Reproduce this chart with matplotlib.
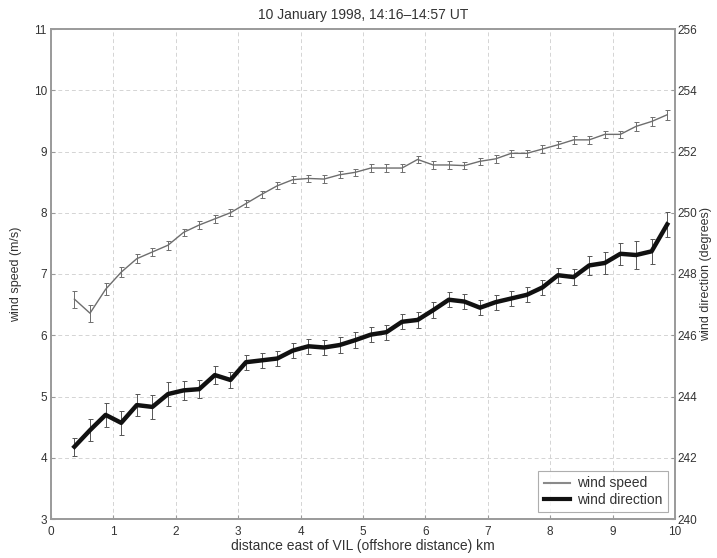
import numpy as np
import matplotlib
matplotlib.use("Agg")
import matplotlib.pyplot as plt
from matplotlib.lines import Line2D

# distance east of VIL (km), 0.25 km bins
distance = [0.375, 0.625, 0.875, 1.125, 1.375, 1.625, 1.875, 2.125, 2.375, 2.625,
            2.875, 3.125, 3.375, 3.625, 3.875, 4.125, 4.375, 4.625, 4.875, 5.125,
            5.375, 5.625, 5.875, 6.125, 6.375, 6.625, 6.875, 7.125, 7.375, 7.625,
            7.875, 8.125, 8.375, 8.625, 8.875, 9.125, 9.375, 9.625, 9.875]

# wind speed (m/s)
speed = [6.59, 6.36, 6.75, 7.03, 7.25, 7.36, 7.47, 7.68, 7.80, 7.90,
         8.00, 8.15, 8.30, 8.44, 8.54, 8.56, 8.55, 8.62, 8.66, 8.73,
         8.73, 8.73, 8.87, 8.78, 8.78, 8.77, 8.84, 8.88, 8.97, 8.97,
         9.04, 9.11, 9.19, 9.19, 9.28, 9.28, 9.41, 9.49, 9.60]
speed_err = [0.14, 0.14, 0.10, 0.08, 0.07, 0.07, 0.07, 0.06, 0.06, 0.06,
             0.06, 0.06, 0.06, 0.06, 0.06, 0.06, 0.06, 0.06, 0.06, 0.06,
             0.06, 0.06, 0.06, 0.06, 0.06, 0.06, 0.06, 0.06, 0.06, 0.06,
             0.06, 0.06, 0.06, 0.06, 0.06, 0.06, 0.07, 0.07, 0.08]

# wind direction (degrees)
direction = [242.36, 242.90, 243.40, 243.14, 243.72, 243.66, 244.08, 244.20, 244.24, 244.70,
             244.54, 245.12, 245.18, 245.24, 245.50, 245.64, 245.60, 245.68, 245.84, 246.02,
             246.10, 246.44, 246.50, 246.82, 247.16, 247.10, 246.90, 247.08, 247.20, 247.32,
             247.56, 247.96, 247.90, 248.28, 248.36, 248.66, 248.62, 248.74, 249.62]
direction_err = [0.30, 0.35, 0.40, 0.40, 0.35, 0.40, 0.40, 0.30, 0.30, 0.30,
                 0.25, 0.25, 0.25, 0.25, 0.25, 0.25, 0.25, 0.25, 0.25, 0.25,
                 0.25, 0.25, 0.25, 0.25, 0.25, 0.25, 0.25, 0.25, 0.25, 0.25,
                 0.25, 0.25, 0.25, 0.30, 0.35, 0.35, 0.45, 0.40, 0.40]

title = "10 January 1998, 14:16\u201314:57 UT"
text_color = "#333333"
spine_color = "#9a9a9a"
fs = 10
tick_fs = 8.5

plt.rcParams['font.family'] = ['Liberation Sans', 'DejaVu Sans']
plt.rcParams['font.size'] = fs

fig = plt.figure(figsize=(7.17, 5.58), dpi=100)
# axes box: x 51..675 px, y 29..519 px
ax = fig.add_axes([51 / 717, 1 - 519 / 558, 624 / 717, 490 / 558])
ax2 = ax.twinx()

ax.errorbar(distance, speed, yerr=speed_err, color="#6e6e6e", lw=1.0,
            elinewidth=0.7, capsize=1.8, capthick=0.7, zorder=3)
ax2.errorbar(distance, direction, yerr=direction_err, color="#111111", lw=3.2,
             elinewidth=0.7, ecolor="#555555", capsize=1.8, capthick=0.7, zorder=3)

ax.set_xlim(0, 10)
ax.set_ylim(3, 11)
ax2.set_ylim(240, 256)
ax.set_xticks(np.arange(0, 11, 1))
ax.set_yticks(np.arange(3, 12, 1))
ax2.set_yticks(np.arange(240, 257, 2))

ax.grid(True, ls=(0, (4, 3)), color="#d4d4d4", lw=0.7)
ax.set_axisbelow(True)

for a in (ax, ax2):
    for s in a.spines.values():
        s.set_color(spine_color)
        s.set_linewidth(1.2)
    a.tick_params(direction="in", length=3, color=spine_color,
                  labelcolor=text_color, labelsize=tick_fs, pad=3)
ax.tick_params(axis="x", pad=5)
ax2.tick_params(axis="y", pad=2)

ax.set_title(title, color=text_color, fontsize=fs, pad=7)
ax.set_xlabel("distance east of VIL (offshore distance) km", color=text_color,
              fontsize=fs, labelpad=1)
ax.set_ylabel("wind speed (m/s)", color=text_color, fontsize=9, labelpad=8)
ax2.set_ylabel("wind direction (degrees)", color=text_color, fontsize=9,
               labelpad=2)

handles = [Line2D([], [], color="#8a8a8a", lw=1.5),
           Line2D([], [], color="#111111", lw=3.0)]
leg = ax2.legend(handles, ["wind speed", "wind direction"], loc="lower right",
                 fontsize=fs, frameon=True, fancybox=False, handlelength=1.9,
                 handletextpad=0.5, borderaxespad=0.5, labelspacing=0.15,
                 borderpad=0.4)
leg.get_frame().set_edgecolor(spine_color)
leg.get_frame().set_linewidth(0.8)
for t in leg.get_texts():
    t.set_color(text_color)

fig.savefig("out.png", dpi=100)
